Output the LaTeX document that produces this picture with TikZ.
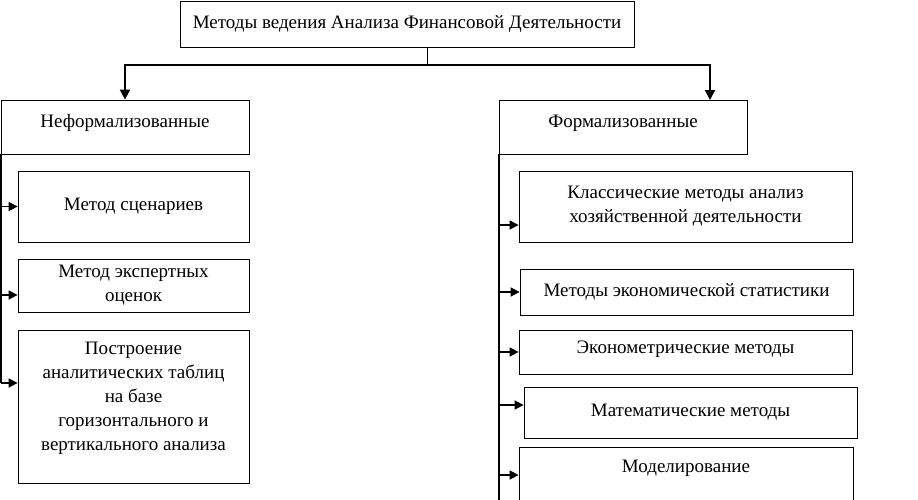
\documentclass[tikz,border=0pt]{standalone}
\usepackage{fontspec}
\setmainfont{Liberation Serif}
\usetikzlibrary{arrows.meta}

\begin{document}
\begin{tikzpicture}[x=1pt,y=-1pt,
  box/.style={draw,line width=0.8pt,inner sep=2pt,align=center,font=\fontsize{19}{24}\selectfont},
  bus/.style={line width=2pt},
  down/.style={line width=2pt,-{Triangle[length=10pt,width=10pt]}},
  side/.style={line width=1.6pt,-{Triangle[length=9pt,width=9pt]}}]

\clip (0,0) rectangle (918,499);

% Top box
\node[box,minimum width=454pt,minimum height=46pt] (top) at (407,24) {Методы ведения Анализа Финансовой Деятельности};

% Two groups
\node[box,minimum width=248pt,minimum height=54pt,text depth=12pt] (nef) at (125,127) {Неформализованные};
\node[box,minimum width=248pt,minimum height=54pt,text depth=12pt] (form) at (623,127) {Формализованные};

% Left column
\node[box,minimum width=231pt,minimum height=71pt] (l1) at (133.5,206.5) {Метод сценариев};
\node[box,minimum width=231pt,minimum height=53pt] (l2) at (133.5,285.5) {Метод экспертных\\оценок};
\node[box,minimum width=231pt,minimum height=153pt,text depth=20pt] (l3) at (133.5,406.5) {Построение\\аналитических таблиц\\на базе\\горизонтального и\\вертикального анализа};

% Right column
\node[box,minimum width=333pt,minimum height=71pt] (r1) at (685.5,206.5) {Классические методы анализ\\хозяйственной деятельности};
\node[box,minimum width=333pt,minimum height=46pt] (r2) at (686.5,292) {Методы экономической статистики};
\node[box,minimum width=333pt,minimum height=44pt,text depth=10pt] (r3) at (685.5,352) {Эконометрические методы};
\node[box,minimum width=333pt,minimum height=51pt] (r4) at (690.5,412.5) {Математические методы};
\node[box,minimum width=334pt,minimum height=73pt,text depth=35pt] (r5) at (686,483.5) {Моделирование};

% Bus from the top box
\coordinate (bus) at (427,65);
\coordinate (formin) at (710,100);
\draw[line width=0.8pt] (top.south -| bus) -- (bus);
\draw[down] (bus) -| (nef.north);
\draw[down] (bus) -| (formin);

% Left trunk
\draw[bus] (nef.south west) -- ([yshift=23.5pt]l3.west -| nef.south west);
\draw[side] (l1.west -| nef.south west) -- (l1.west);
\draw[side] ([yshift=-9.5pt]l2.west -| nef.south west) -- ([yshift=-9.5pt]l2.west);
\draw[side] ([yshift=23.5pt]l3.west -| nef.south west) -- ([yshift=23.5pt]l3.west);

% Right trunk
\draw[bus] (form.south west) -- (r5.south west -| form.south west);
\draw[side] ([yshift=-18.5pt]r1.west -| form.south west) -- ([yshift=-18.5pt]r1.west);
\draw[side] (r2.west -| form.south west) -- (r2.west);
\draw[side] (r3.west -| form.south west) -- (r3.west);
\draw[side] ([yshift=7.5pt]r4.west -| form.south west) -- ([yshift=7.5pt]r4.west);
\draw[side] ([yshift=8.5pt]r5.west -| form.south west) -- ([yshift=8.5pt]r5.west);

\end{tikzpicture}
\end{document}
